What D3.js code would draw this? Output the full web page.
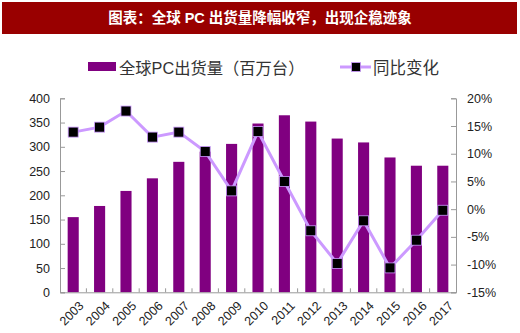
<!DOCTYPE html>
<html><head><meta charset="utf-8">
<script src="https://cdn.jsdelivr.net/npm/d3@7"></script>
<style>body{margin:0;background:#fff}svg{display:block}text{font-family:"Liberation Sans",Arial,"Noto Sans CJK SC",sans-serif}</style>
</head><body><svg id="c" width="520" height="333"></svg>
<script>
const years = ["2003","2004","2005","2006","2007","2008","2009","2010","2011","2012","2013","2014","2015","2016","2017"];
const shipments = [155,178,209,235,269,290,306,348,365,352,317,309,278,261,261];
const yoy = [13.9,14.8,17.7,13.0,13.9,10.4,3.3,14.0,5.0,-3.9,-9.8,-2.1,-10.6,-5.6,-0.2];
const leftTicks = [0,50,100,150,200,250,300,350,400];
const rightTicks = [-15,-10,-5,0,5,10,15,20];
const title = "图表：全球 PC 出货量降幅收窄，出现企稳迹象";
const legendBar = "全球PC出货量（百万台）";
const legendLine = "同比变化";

const svg = d3.select("#c");
const L = 60, R = 456, T = 98.3, B = 292.3;
const x = d3.scaleBand().domain(years).range([L, R]).paddingInner(0.58).paddingOuter(0.29);
const xb = d3.scaleBand().domain(years).range([L, R]);
const yL = d3.scaleLinear().domain([0, 400]).range([B, T]);
const yR = d3.scaleLinear().domain([-15, 20]).range([B, T]);

// title banner
svg.append("rect").attr("x",2).attr("y",2).attr("width",515).attr("height",32).attr("fill","#990000");
svg.append("text").attr("x",260).attr("y",23).attr("text-anchor","middle").attr("fill","#fff")
  .attr("font-size",14.5).attr("font-weight","bold").text(title);

// legend
svg.append("rect").attr("x",88).attr("y",62).attr("width",28).attr("height",9).attr("fill","#800080");
svg.append("text").attr("x",119).attr("y",73.5).attr("font-size",16.3).attr("fill","#333").text(legendBar);
svg.append("line").attr("x1",340).attr("x2",371).attr("y1",67).attr("y2",67).attr("stroke","#cc99ff").attr("stroke-width",3);
svg.append("rect").attr("x",351.5).attr("y",62.5).attr("width",9).attr("height",9).attr("fill","#000").attr("stroke","#cc99ff").attr("stroke-width",0.8);
svg.append("text").attr("x",373).attr("y",73.5).attr("font-size",16.5).attr("fill","#333").text(legendLine);

// bars
svg.append("g").selectAll("rect").data(years).join("rect")
  .attr("x", d => x(d)).attr("width", x.bandwidth())
  .attr("y", (d,i) => yL(shipments[i])).attr("height", (d,i) => B - yL(shipments[i]))
  .attr("fill", "#800080");

// axes
const axisColor = "#999";
const gl = svg.append("g").attr("transform", `translate(${L},0)`)
  .call(d3.axisLeft(yL).tickValues(leftTicks).tickSize(-5).tickPadding(10));
const gr = svg.append("g").attr("transform", `translate(${R},0)`)
  .call(d3.axisRight(yR).tickValues(rightTicks).tickSize(-5).tickPadding(11).tickFormat(d => d + "%"));
const gx = svg.append("g").attr("transform", `translate(0,${B})`)
  .call(d3.axisBottom(xb).tickSize(0).tickFormat(""));
[gl, gr, gx].forEach(g => {
  g.select(".domain").attr("stroke", axisColor);
  g.selectAll(".tick line").attr("stroke", axisColor);
  g.selectAll("text").attr("font-size", 12.5).attr("fill", "#222");
});
// category boundary ticks
svg.append("g").selectAll("line").data(years.slice(1)).join("line")
  .attr("x1", d => xb(d)).attr("x2", d => xb(d)).attr("y1", B).attr("y2", B - 4)
  .attr("stroke", axisColor);
// x labels
svg.append("g").selectAll("text").data(years).join("text")
  .attr("transform", d => `translate(${xb(d) + xb.bandwidth()/2 + 5},${B + 8}) rotate(-45)`)
  .attr("text-anchor", "end").attr("dy", "0.7em").attr("font-size", 12.5).attr("fill", "#222").text(d => d);

// line
const line = d3.line().x((d,i) => xb(years[i]) + xb.bandwidth()/2).y(d => yR(d));
svg.append("path").datum(yoy).attr("d", line).attr("fill","none").attr("stroke","#cc99ff").attr("stroke-width",3);
svg.append("g").selectAll("rect").data(yoy).join("rect")
  .attr("x", (d,i) => xb(years[i]) + xb.bandwidth()/2 - 5).attr("y", d => yR(d) - 5)
  .attr("width", 10).attr("height", 10).attr("fill", "#000").attr("stroke", "#cc99ff").attr("stroke-width", 0.8);
</script></body></html>
